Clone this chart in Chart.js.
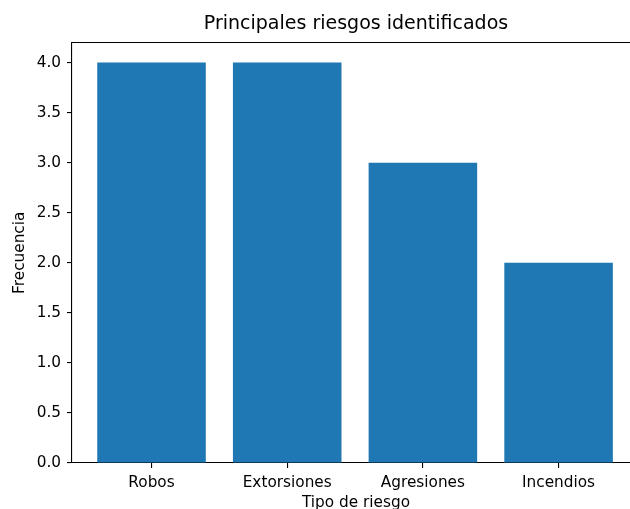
<!DOCTYPE html>
<html>
<head>
<meta charset="utf-8">
<script src="https://cdn.jsdelivr.net/npm/chart.js@4"></script>
<style>
  html, body { margin: 0; padding: 0; background: #fff; overflow: hidden; }
  #wrap { width: 630px; height: 509px; overflow: hidden; position: relative; }
  canvas { display: block; }
</style>
</head>
<body>
<div id="wrap"><canvas id="c" width="640" height="509" style="width:640px;height:509px"></canvas></div>
<script>
const categories = ['Robos', 'Extorsiones', 'Agresiones', 'Incendios'];
const frecuencia = [4, 4, 3, 2];
const yTicks = [0, 0.5, 1, 1.5, 2, 2.5, 3, 3.5, 4];

const FONT = 'DejaVu Sans';
// top spine (the right spine lies outside the cropped figure)
const frame = {
  id: 'frame',
  afterDraw(chart) {
    const {ctx, chartArea: a} = chart;
    ctx.save();
    ctx.strokeStyle = '#000';
    ctx.lineWidth = 1.1;
    ctx.beginPath();
    ctx.moveTo(a.left, a.top);
    ctx.lineTo(chart.width, a.top);
    ctx.stroke();
    ctx.restore();
  }
};

new Chart(document.getElementById('c'), {
  type: 'bar',
  data: {
    datasets: [{
      data: categories.map((c, i) => ({x: i, y: frecuencia[i]})),
      backgroundColor: '#1f77b4',
      borderWidth: 0,
      barPercentage: 0.8,
      categoryPercentage: 1.0
    }]
  },
  options: {
    responsive: false,
    devicePixelRatio: 1,
    animation: false,
    layout: { padding: { left: 0, right: 0, top: 0, bottom: 0 } },
    plugins: {
      legend: { display: false },
      tooltip: { enabled: false },
      title: {
        display: true,
        text: 'Principales riesgos identificados',
        fullSize: false,
        color: '#000',
        font: { family: FONT, size: 19, weight: 'normal' },
        padding: { top: 12.7, bottom: 7.0 }
      }
    },
    scales: {
      x: {
        type: 'linear',
        offset: false,
        min: -0.586,
        max: 3.6,
        afterBuildTicks: s => { s.ticks = categories.map((_, i) => ({value: i})); },
        afterFit: s => { s.height = 46; },
        ticks: {
          callback: v => categories[v],
          color: '#000',
          font: { family: FONT, size: 15.3 },
          padding: 5.5,
          maxRotation: 0,
          autoSkip: false
        },
        grid: { offset: false, drawOnChartArea: false, drawTicks: true, tickLength: 5, color: '#000', lineWidth: 1.1 },
        border: { display: true, color: '#000', width: 1.1 },
        title: {
          display: true,
          text: 'Tipo de riesgo',
          color: '#000',
          font: { family: FONT, size: 15.3 },
          padding: { top: 0, bottom: -3 }
        }
      },
      y: {
        min: 0,
        max: 4.2,
        afterBuildTicks: s => { s.ticks = yTicks.map(v => ({value: v})); },
        afterFit: s => { s.width = 72; },
        ticks: {
          callback: v => Number(v).toFixed(1),
          color: '#000',
          font: { family: FONT, size: 15.3 },
          padding: 6
        },
        grid: { drawOnChartArea: false, drawTicks: true, tickLength: 5, color: '#000', lineWidth: 1.1 },
        border: { display: true, color: '#000', width: 1.1 },
        title: {
          display: true,
          text: 'Frecuencia',
          color: '#000',
          font: { family: FONT, size: 15.3 },
          padding: { top: 11, bottom: 0 }
        }
      }
    }
  },
  plugins: [frame]
});
</script>
</body>
</html>
